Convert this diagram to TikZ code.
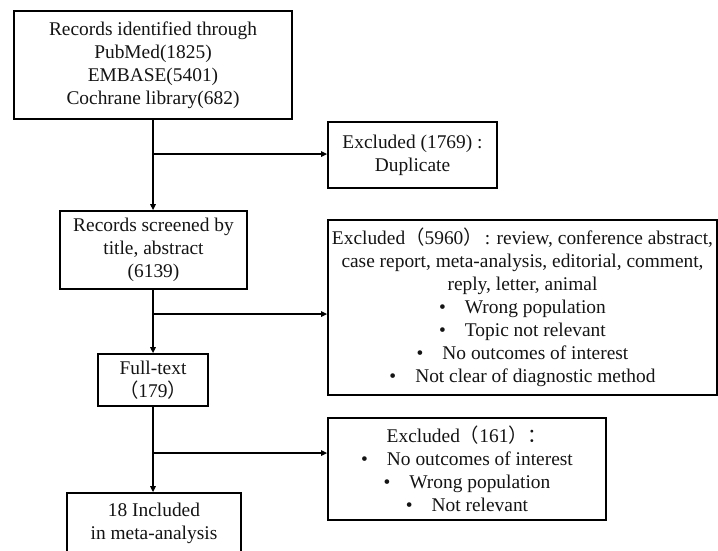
\documentclass[tikz,border=0pt]{standalone}
\usepackage{fontspec}
\setmainfont{Liberation Serif}
\newfontfamily\cjk{Noto Sans CJK SC}
\usetikzlibrary{arrows.meta}
\newcommand{\lp}{{\cjk （}}
\newcommand{\rp}{{\cjk ）}}
\newcommand{\cc}{{\cjk ：}}
\newcommand{\bl}{•\hspace{19pt}}
\begin{document}
\begin{tikzpicture}[x=1pt,y=-1pt,
  box/.style={draw, line width=1.8pt, align=center, inner sep=0pt,
    font=\fontsize{19.4}{23}\selectfont, text=black!92},
  arr/.style={line width=1.3pt, -{Triangle[length=6pt,width=5.5pt]}}]
\clip (0,0) rectangle (718,550);
\fill[white] (0,0) rectangle (718,550);
\node[box, minimum width=278pt, minimum height=108pt] (b1) at (153,65)
  {Records identified through\\PubMed(1825)\\EMBASE(5401)\\Cochrane library(682)};
\node[box, minimum width=169pt, minimum height=66pt] (b2) at (412.5,155)
  {Excluded (1769) :\\Duplicate};
\node[box, minimum width=187pt, minimum height=78pt] (b3) at (153.5,250)
  {Records screened by\\title, abstract\\(6139)};
\node[box, minimum width=389pt, minimum height=175pt] (b4) at (522.5,307.5)
  {Excluded\lp 5960\rp\hspace{2pt}: review, conference abstract,\\case report, meta-analysis, editorial, comment,\\reply, letter, animal\\\bl Wrong population\\\bl Topic not relevant\\\bl No outcomes of interest\\\bl Not clear of diagnostic method};
\node[box, minimum width=110pt, minimum height=52pt] (b5) at (153,380)
  {Full-text\\\lp 179\rp};
\node[box, minimum width=278pt, minimum height=102pt] (b6) at (467,469)
  {Excluded\lp 161\rp\cc\\\bl No outcomes of interest\\\bl Wrong population\\\bl Not relevant};
\node[box, minimum width=174pt, minimum height=60pt] (b7) at (154,523)
  {18 Included\\in meta-analysis};
\coordinate (j1) at (153,154);
\coordinate (j2) at (153,314);
\coordinate (j3) at (153,453);
\draw[arr] (b1.south) -- (b1.south |- b3.north);
\draw[arr] (j1) -- (j1 -| b2.west);
\draw[arr] (b3.south -| b1.south) -- (b1.south |- b5.north);
\draw[arr] (j2) -- (j2 -| b4.west);
\draw[arr] (b5.south) -- (b5.south |- b7.north);
\draw[arr] (j3) -- (j3 -| b6.west);
\end{tikzpicture}
\end{document}
